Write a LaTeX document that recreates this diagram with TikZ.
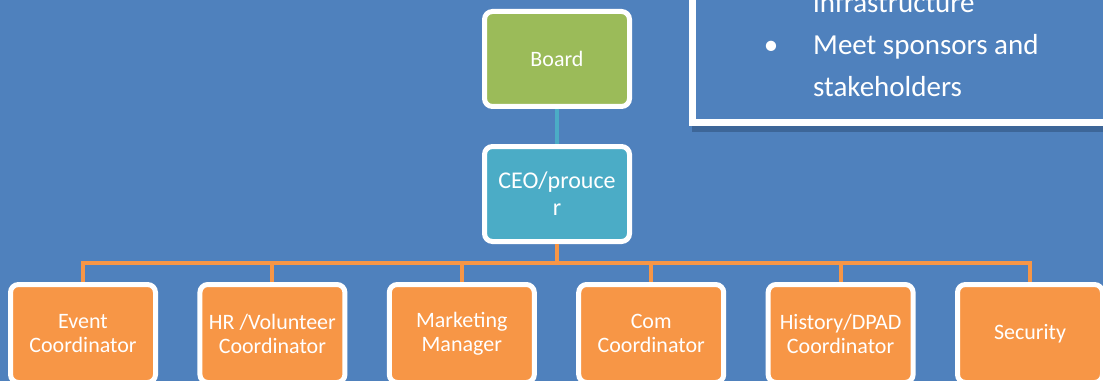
\documentclass[tikz,border=0pt]{standalone}
\usepackage{fontspec}
\setmainfont{Carlito}
\usetikzlibrary{positioning}

\definecolor{hintergrund}{HTML}{4F81BD}
\definecolor{schatten}{HTML}{3D6698}
\definecolor{gruen}{HTML}{9BBB59}
\definecolor{tuerkis}{HTML}{4BACC6}
\definecolor{orange}{HTML}{F79646}

\tikzset{
	kasten/.style={draw=white, line width=5pt, rounded corners=8pt, minimum width=145pt,
		minimum height=95pt, inner sep=0pt, text=white, align=center,
		font=\fontsize{22}{24}\selectfont},
	notiz/.style={text=white, inner sep=0pt, font=\fontsize{29}{42}\selectfont},
}

\begin{document}
\begin{tikzpicture}[x=1pt, y=1pt]
		% zeichne Hintergrund
		\useasboundingbox (0,0) rectangle (1103,381);
		\fill[hintergrund] (0,0) rectangle (1103,381);
		\clip (0,0) rectangle (1103,381);
		
		% zeichne Textfeld oben rechts
		\fill[schatten] (692,249) rectangle (1120,400);
		\draw[white, line width=7pt, fill=hintergrund] (692.5,258.5) rectangle (1120,400);
		\node[notiz, anchor=base west] (zeile1) at (813,368) {infrastructure};
		\node[notiz, anchor=base west] (zeile2) at (813,326) {Meet sponsors and};
		\node[notiz, anchor=base west] (zeile3) at (813,284) {stakeholders};
		\node[notiz] (punkt) at (771,333) {•};
		
		% zeichne Kaesten
		\node[kasten, fill=gruen] (board) at (557,322) {Board};
		\node[kasten, fill=tuerkis, font=\fontsize{24}{27}\selectfont] (ceo) at (557,187) {CEO/prouce\\r};
		\node[kasten, fill=orange, minimum height=98pt] (event) at (83,47.5) {Event\\Coordinator};
		\node[kasten, fill=orange, minimum height=98pt, right=39.4pt of event] (hr) {HR /Volunteer\\Coordinator};
		\node[kasten, fill=orange, minimum height=98pt, right=39.4pt of hr] (marketing) {Marketing\\Manager};
		\node[kasten, fill=orange, minimum height=98pt, right=39.4pt of marketing] (com) {Com\\Coordinator};
		\node[kasten, fill=orange, minimum height=98pt, right=39.4pt of com] (history) {History/DPAD\\Coordinator};
		\node[kasten, fill=orange, minimum height=98pt, right=39.4pt of history] (security) {Security};
		
		% zeichne Verbindungen
		\draw[tuerkis, line width=4pt] (board) -- (ceo);
		\foreach \n in {event,hr,marketing,com,history,security}
			\draw[orange, line width=4pt] (ceo.south) -- ++(0,-19) -| (\n.north);
	\end{tikzpicture}
\end{document}
